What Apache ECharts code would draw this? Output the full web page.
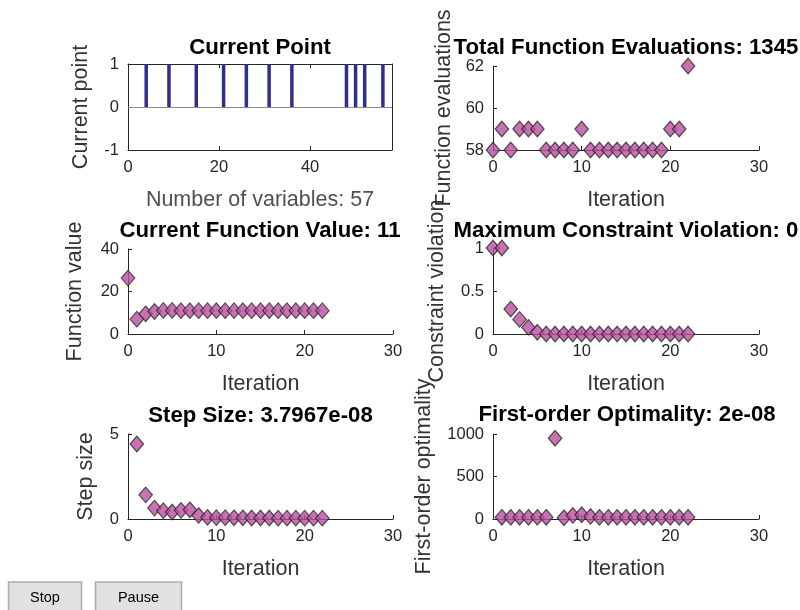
<!DOCTYPE html>
<html>
<head>
<meta charset="utf-8">
<script src="https://cdn.jsdelivr.net/npm/echarts@6/dist/echarts.min.js"></script>
<style>html,body{margin:0;padding:0;background:#fff;}#c{width:800px;height:610px;}</style>
</head>
<body>
<div id="c"></div>
<script>
// ---- data ----
const currentPoint = [0,0,0,1,0,0,0,0,1,0,0,0,0,0,1,0,0,0,0,0,1,0,0,0,0,1,0,0,0,0,1,0,0,0,0,1,0,0,0,0,0,0,0,0,0,0,0,1,0,1,0,1,0,0,0,1,0];
const iterAll = [0,1,2,3,4,5,6,7,8,9,10,11,12,13,14,15,16,17,18,19,20,21,22];
const iterFrom1 = [1,2,3,4,5,6,7,8,9,10,11,12,13,14,15,16,17,18,19,20,21,22];
const funcEvals = [58,59,58,59,59,59,58,58,58,58,59,58,58,58,58,58,58,58,58,58,59,59,62];
const funcValue = [26.3,7.0,9.5,10.6,11.1,11.1,11.0,11.0,11.0,11.0,11.0,11.0,11.0,11.0,11.0,11.0,11.0,11.0,11.0,11.0,11.0,11.0,11.0];
const constrViol = [1,1,0.29,0.17,0.076,0.02,0,0,0,0,0,0,0,0,0,0,0,0,0,0,0,0,0];
const stepSize = [4.41,1.42,0.64,0.49,0.41,0.51,0.54,0.21,0.10,0.08,0.08,0.07,0.07,0.06,0.06,0.06,0.05,0.05,0.05,0.05,0.05,0.05];
const optimality = [20,20,20,20,20,20,950,15,42,50,30,20,20,20,20,20,20,20,20,20,20,20];
const titles = ['Current Point','Total Function Evaluations: 1345','Current Function Value: 11','Maximum Constraint Violation: 0','Step Size: 3.7967e-08','First-order Optimality: 2e-08'];
const yNames = ['Current point','Function evaluations','Function value','Constraint violation','Step size','First-order optimality'];
const xNames = ['Number of variables: 57','Iteration','Iteration','Iteration','Iteration','Iteration'];

// ---- layout / style ----
const FONT = "'Liberation Sans', Arial, sans-serif";
const AX = '#262626';
const TXT = '#262626';
const MARK = '#BB4FA0';
const grids = [
  {left:128, top:64,  width:264, height:86},
  {left:493, top:66,  width:266, height:84},
  {left:128, top:249, width:265, height:85},
  {left:493, top:248, width:266, height:86},
  {left:128, top:434, width:265, height:85},
  {left:493, top:434, width:266, height:85}
];
const xRanges = [[0,58,20],[0,30,10],[0,30,10],[0,30,10],[0,30,10],[0,30,10]];
const yRanges = [[-1,1,1],[58,62,2],[0,40,20],[0,1,0.5],[0,5,5],[0,1000,500]];
const yGaps = [36,38,42,45,31,58];
const titlePos = [[260,48],[626,47.5],[260,231],[626,231],[260.5,416],[627,415]];

const xAxis = [], yAxis = [];
for (let i = 0; i < 6; i++) {
  xAxis.push({
    type:'value', gridIndex:i, min:xRanges[i][0], max:xRanges[i][1], interval:xRanges[i][2],
    name:xNames[i], nameLocation:'middle', nameGap:39,
    nameTextStyle:{fontFamily:FONT, fontSize:21.5, color: i===0 ? '#505050' : '#333'},
    axisLine:{show:true, onZero:false, lineStyle:{color:AX, width:1}},
    axisTick:{show:true, inside:true, length:4, lineStyle:{color:AX}},
    axisLabel:{show:true, fontFamily:FONT, fontSize:16.5, color:TXT, margin:9, showMaxLabel: i!==0,
      formatter: v => String(v)},
    splitLine:{show:false}
  });
  yAxis.push({
    type:'value', gridIndex:i, min:yRanges[i][0], max:yRanges[i][1], interval:yRanges[i][2],
    name:yNames[i], nameLocation:'middle', nameGap:yGaps[i],
    nameTextStyle:{fontFamily:FONT, fontSize:21.5, color:'#333'},
    axisLine:{show:true, onZero:false, lineStyle:{color:AX, width:1}},
    axisTick:{show:true, inside:true, length:4, lineStyle:{color:AX}},
    axisLabel:{show:true, fontFamily:FONT, fontSize:16.5, color:TXT, margin:9, formatter: v => String(v)},
    splitLine:{show:false}
  });
}
// top and right box axes for the Current Point plot
xAxis.push({type:'value', gridIndex:0, position:'top', min:0, max:58, interval:20,
  axisLine:{show:true, onZero:false, lineStyle:{color:AX}}, axisTick:{show:true, inside:true, length:4, lineStyle:{color:AX}},
  axisLabel:{show:false}, splitLine:{show:false}});
yAxis.push({type:'value', gridIndex:0, position:'right', min:-1, max:1, interval:1,
  axisLine:{show:true, onZero:false, lineStyle:{color:AX}}, axisTick:{show:true, inside:true, length:4, lineStyle:{color:AX}},
  axisLabel:{show:false}, splitLine:{show:false}});

const diamond = {symbol:'diamond', symbolSize:[13.5,15.5],
  itemStyle:{color:MARK, borderColor:'#2a2a2a', borderWidth:1.2}};

const pair = (xs, ys) => xs.map((x, k) => [x, ys[k]]);

const series = [
  {type:'bar', xAxisIndex:0, yAxisIndex:0, barWidth:3.5,
   data: currentPoint.map((v, k) => [k + 1, v]),
   itemStyle:{color:'#2E2E8C'}, silent:true,
   markLine:{silent:true, symbol:'none', label:{show:false},
     lineStyle:{color:'#8a8a8a', width:1, type:'solid'}, data:[{yAxis:0}]}},
  Object.assign({type:'scatter', xAxisIndex:1, yAxisIndex:1, data:pair(iterAll, funcEvals), clip:false}, diamond),
  Object.assign({type:'scatter', xAxisIndex:2, yAxisIndex:2, data:pair(iterAll, funcValue), clip:false}, diamond),
  Object.assign({type:'scatter', xAxisIndex:3, yAxisIndex:3, data:pair(iterAll, constrViol), clip:false}, diamond),
  Object.assign({type:'scatter', xAxisIndex:4, yAxisIndex:4, data:pair(iterFrom1, stepSize), clip:false}, diamond),
  Object.assign({type:'scatter', xAxisIndex:5, yAxisIndex:5, data:pair(iterFrom1, optimality), clip:false}, diamond)
];

const graphic = titles.map((t, i) => ({
  type:'text', x:titlePos[i][0], y:titlePos[i][1], silent:true, z:10,
  style:{text:t, fontFamily:FONT, fontSize:22.2, fontWeight:'bold', fill:'#000', align:'center', verticalAlign:'middle'}
}));
// Stop / Pause buttons
[['Stop',8.5,73],['Pause',95.5,86]].forEach(([label, x, w]) => {
  graphic.push({type:'rect', shape:{x:x, y:582, width:w, height:32}, silent:true,
    style:{fill:'#e1e1e1', stroke:'#adadad', lineWidth:1.5}});
  graphic.push({type:'text', x:x + w/2, y:597.5, silent:true,
    style:{text:label, fontFamily:FONT, fontSize:14.5, fill:'#000', align:'center', verticalAlign:'middle'}});
});

const chart = echarts.init(document.getElementById('c'), null, {renderer:'canvas'});
chart.setOption({
  animation:false,
  backgroundColor:'#ffffff',
  grid: grids.map(g => Object.assign({containLabel:false}, g)),
  xAxis, yAxis, series, graphic
});
</script>
</body>
</html>
